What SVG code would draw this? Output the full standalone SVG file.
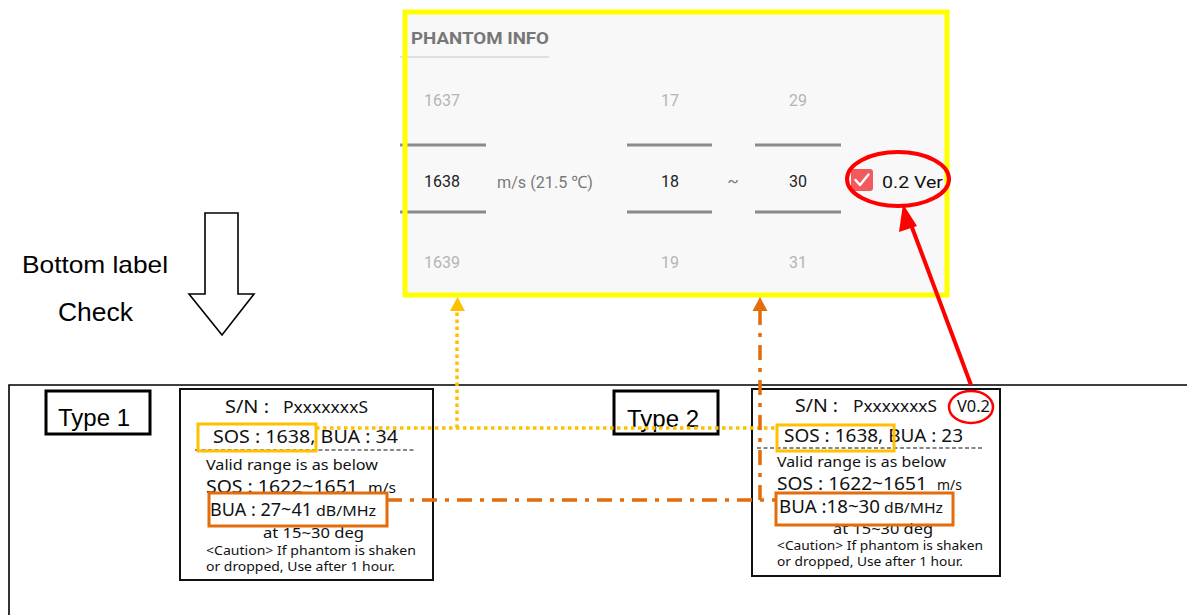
<svg xmlns="http://www.w3.org/2000/svg" width="1187" height="615" viewBox="0 0 1187 615">
<style>
.ui{font-family:Roboto,"Noto Sans",sans-serif}
.faint{fill:#b4b4b4;font-size:16px}
.main{fill:#222;font-size:16px}
.mid{fill:#7a7a7a;font-size:17px}
.sep{stroke:#8a8a8a;stroke-width:3}
.ar{font-family:"Liberation Sans",Arial,sans-serif;fill:#000}
.lb{font-family:"Noto Sans","Noto Sans CJK KR",sans-serif;fill:#111}
.box{fill:#fff;stroke:#111;stroke-width:2}
.sos{fill:none;stroke:#FFC000;stroke-width:3}
.bua{fill:none;stroke:#E46C0A;stroke-width:3}
.dash{stroke:#111;stroke-width:1.2;stroke-dasharray:4 2.5}
</style>
<rect width="1187" height="615" fill="#fff"/>

<g id="phantom-info">
<rect x="405" y="12" width="542" height="283" fill="#f8f8f8"/>
<text class="ui" x="411" y="44" font-size="17" font-weight="bold" fill="#777" textLength="138" lengthAdjust="spacingAndGlyphs">PHANTOM INFO</text>
<line x1="400" y1="57" x2="549" y2="57" stroke="#e0e0e0" stroke-width="2"/>
<line class="sep" x1="400" y1="145" x2="486" y2="145"/>
<line class="sep" x1="400" y1="212" x2="486" y2="212"/>
<line class="sep" x1="627" y1="145" x2="712" y2="145"/>
<line class="sep" x1="627" y1="212" x2="712" y2="212"/>
<line class="sep" x1="755" y1="145" x2="841" y2="145"/>
<line class="sep" x1="755" y1="212" x2="841" y2="212"/>
<g class="ui" text-anchor="middle">
<text class="faint" x="442" y="106">1637</text>
<text class="main" x="442" y="187">1638</text>
<text class="faint" x="442" y="268">1639</text>
<text class="faint" x="670" y="106">17</text>
<text class="main" x="670" y="187">18</text>
<text class="faint" x="670" y="268">19</text>
<text class="faint" x="798" y="106">29</text>
<text class="main" x="798" y="187">30</text>
<text class="faint" x="798" y="268">31</text>
<text class="mid" x="733" y="187">~</text>
</g>
<text class="ui mid" x="497" y="188" textLength="96" lengthAdjust="spacingAndGlyphs">m/s (21.5 ℃)</text>
<rect x="851" y="169" width="22" height="22" rx="3" fill="#f25b5e"/>
<path d="M855.5,180 L860,185 L868.5,174.5" fill="none" stroke="#fff" stroke-width="2.4" stroke-linecap="round" stroke-linejoin="round"/>
<text class="ui" x="882" y="188" font-size="17" fill="#111" textLength="61" lengthAdjust="spacingAndGlyphs">0.2 Ver</text>
<rect x="405" y="12" width="542" height="283" fill="none" stroke="#FFFF00" stroke-width="5"/>
</g>

<g id="check-note">
<text class="ar" x="22" y="273" font-size="24" textLength="146" lengthAdjust="spacingAndGlyphs">Bottom label</text>
<text class="ar" x="58" y="321" font-size="25" textLength="75" lengthAdjust="spacingAndGlyphs">Check</text>
<path d="M205,213 H238 V294 H254 L222,335 L189,294 H205 Z" fill="#fff" stroke="#000" stroke-width="1.6" stroke-linejoin="miter"/>
</g>

<g id="frame">
<path d="M9,615 V385 H1187" fill="none" stroke="#000" stroke-width="1.6"/>
</g>

<g id="type1">
<rect x="46" y="391" width="104" height="43" fill="#fff" stroke="#000" stroke-width="3"/>
<text class="ar" x="58" y="426" font-size="24">Type 1</text>
</g>

<g id="type2">
<rect x="614" y="391" width="104" height="43" fill="#fff" stroke="#000" stroke-width="3"/>
<text class="ar" x="627" y="427" font-size="24">Type 2</text>
</g>

<g id="label1">
<rect class="box" x="180" y="389" width="253" height="191"/>
<text class="lb" x="225" y="413" font-size="18" textLength="44" lengthAdjust="spacingAndGlyphs">S/N :</text>
<text class="lb" x="283" y="413" font-size="17" textLength="85" lengthAdjust="spacingAndGlyphs">PxxxxxxxS</text>
<text class="lb" x="213" y="443" font-size="18" textLength="185" lengthAdjust="spacingAndGlyphs">SOS : 1638, BUA : 34</text>
<line class="dash" x1="195" y1="450" x2="415" y2="450"/>
<text class="lb" x="206" y="470" font-size="15" textLength="172" lengthAdjust="spacingAndGlyphs">Valid range is as below</text>
<text class="lb" x="206" y="493" font-size="18" textLength="152" lengthAdjust="spacingAndGlyphs">SOS : 1622~1651</text>
<text class="lb" x="368" y="493" font-size="14" textLength="28" lengthAdjust="spacingAndGlyphs">m/s</text>
<text class="lb" x="210" y="516" font-size="18" textLength="102" lengthAdjust="spacingAndGlyphs">BUA : 27~41</text>
<text class="lb" x="316" y="516" font-size="14" textLength="60" lengthAdjust="spacingAndGlyphs">dB/MHz</text>
<text class="lb" x="263" y="538" font-size="15" textLength="101" lengthAdjust="spacingAndGlyphs">at 15~30 deg</text>
<text class="lb" x="206" y="555" font-size="12" textLength="210" lengthAdjust="spacingAndGlyphs">&lt;Caution&gt; If phantom is shaken</text>
<text class="lb" x="206" y="571" font-size="12" textLength="189" lengthAdjust="spacingAndGlyphs">or dropped, Use after 1 hour.</text>
<rect class="sos" x="198" y="424" width="118" height="27"/>
<rect class="bua" x="209" y="493" width="178" height="33"/>
</g>

<g id="label2">
<rect class="box" x="752" y="389" width="248" height="187"/>
<text class="lb" x="795" y="412" font-size="18" textLength="43" lengthAdjust="spacingAndGlyphs">S/N :</text>
<text class="lb" x="853" y="412" font-size="17" textLength="84" lengthAdjust="spacingAndGlyphs">PxxxxxxxS</text>
<text class="lb" x="957" y="412" font-size="16" textLength="33" lengthAdjust="spacingAndGlyphs">V0.2</text>
<text class="lb" x="784" y="442" font-size="18" textLength="179" lengthAdjust="spacingAndGlyphs">SOS : 1638, BUA : 23</text>
<line class="dash" x1="757" y1="448" x2="982" y2="448"/>
<text class="lb" x="777" y="467" font-size="15" textLength="169" lengthAdjust="spacingAndGlyphs">Valid range is as below</text>
<text class="lb" x="777" y="490" font-size="18" textLength="150" lengthAdjust="spacingAndGlyphs">SOS : 1622~1651</text>
<text class="lb" x="937" y="490" font-size="14" textLength="25" lengthAdjust="spacingAndGlyphs">m/s</text>
<text class="lb" x="779" y="513" font-size="18" textLength="101" lengthAdjust="spacingAndGlyphs">BUA :18~30</text>
<text class="lb" x="884" y="513" font-size="14" textLength="59" lengthAdjust="spacingAndGlyphs">dB/MHz</text>
<text class="lb" x="833" y="534" font-size="15" textLength="100" lengthAdjust="spacingAndGlyphs">at 15~30 deg</text>
<text class="lb" x="777" y="550" font-size="12" textLength="206" lengthAdjust="spacingAndGlyphs">&lt;Caution&gt; If phantom is shaken</text>
<text class="lb" x="777" y="566" font-size="12" textLength="186" lengthAdjust="spacingAndGlyphs">or dropped, Use after 1 hour.</text>
<rect class="sos" x="777" y="425" width="117" height="26"/>
<rect class="bua" x="776" y="493" width="177" height="32"/>
</g>

<g id="connectors">
<path d="M316,428 H777" fill="none" stroke="#FFC000" stroke-width="3.5" stroke-dasharray="3.5 3.5"/>
<path d="M457,428 V310" fill="none" stroke="#FFC000" stroke-width="3.5" stroke-dasharray="3.5 3.5"/>
<path d="M450,311 L457.5,297 L465,311 Z" fill="#FFC000"/>
<path d="M387,500 H776" fill="none" stroke="#E46C0A" stroke-width="3.5" stroke-dasharray="15 8 4 8"/>
<path d="M760,500 V310" fill="none" stroke="#E46C0A" stroke-width="3.5" stroke-dasharray="15 8 4 8"/>
<path d="M752.5,311 L760,297 L767.5,311 Z" fill="#E46C0A"/>
<ellipse cx="898" cy="179" rx="51" ry="27" fill="none" stroke="#FF0000" stroke-width="4"/>
<ellipse cx="971" cy="407" rx="22" ry="16" fill="none" stroke="#FF0000" stroke-width="2.5"/>
<line x1="971" y1="385" x2="910" y2="222" stroke="#FF0000" stroke-width="4"/>
<path d="M903,204 L917,226 L899,232 Z" fill="#FF0000"/>
</g>
</svg>
